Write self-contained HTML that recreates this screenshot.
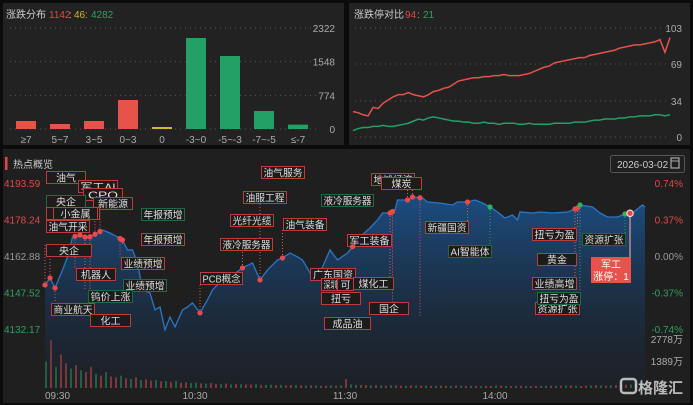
<!DOCTYPE html>
<html><head><meta charset="utf-8">
<style>
html,body{margin:0;padding:0;background:#0b0b0b;width:693px;height:405px;overflow:hidden}
svg{display:block;font-family:"Liberation Sans","Noto Sans CJK SC",sans-serif}
</style></head>
<body>
<svg id="root" width="693" height="405" viewBox="0 0 693 405" xmlns="http://www.w3.org/2000/svg">
<defs>
<linearGradient id="areaGrad" x1="0" y1="0" x2="0" y2="1">
<stop offset="0" stop-color="#1b4f86" stop-opacity="0.95"/>
<stop offset="1" stop-color="#1a2230" stop-opacity="0.4"/>
</linearGradient>
</defs>
<rect x="3" y="3" width="341" height="142" fill="#222"/>
<rect x="349" y="3" width="341" height="142" fill="#222"/>
<rect x="3" y="149" width="687" height="254" fill="#1f1f1f"/>

<g font-size="10">
<text x="6" y="18" fill="#ccc">涨跌分布</text>
<text x="49" y="18" fill="#e04848">1142</text><text x="69" y="18" fill="#aaa">:</text>
<text x="74" y="18" fill="#d4b52a">46</text><text x="85" y="18" fill="#aaa">:</text>
<text x="91" y="18" fill="#2ea061">4282</text>
</g>
<g id="barChart"></g>

<g font-size="10">
<text x="354" y="18" fill="#ccc">涨跌停对比</text>
<text x="405" y="18" fill="#e04848">94</text><text x="417" y="18" fill="#aaa">:</text>
<text x="423" y="18" fill="#2ea061">21</text>
</g>
<g id="lineChart"></g>

<rect x="5" y="157" width="2.5" height="13" fill="#e04848"/>
<text x="13" y="168" font-size="10" fill="#ccc">热点概览</text>
<g>
<rect x="610.5" y="155.5" width="74" height="17" rx="2" fill="#1f1f1f" stroke="#555"/>
<text x="617" y="168" font-size="10" fill="#ccc">2026-03-02</text>
<rect x="671" y="158" width="8" height="10" fill="none" stroke="#aaa" stroke-width="1.2"/>
<line x1="671" y1="161" x2="679" y2="161" stroke="#aaa"/>
</g>
<g id="mainChart"></g>
<g opacity="0.75">
<rect x="621" y="379" width="15" height="14" rx="3" fill="none" stroke="#eee" stroke-width="2.5"/>
<text x="638" y="393" font-size="15" fill="#eee" font-weight="bold">格隆汇</text>
</g>
</svg>
<script>
const NS="http://www.w3.org/2000/svg";
// ---- distribution bar data ----
const distCategories=["≥7","5~7","3~5","0~3","0","-3~0","-5~-3","-7~-5","≤-7"];
const distValues=[184,115,184,667,46,2092,1678,414,100];
const distColors=["r","r","r","r","y","g","g","g","g"];
const distTicks=[0,774,1548,2322];
// ---- limit ratio data ----
const limitUp=[24,23,21,20,28,27,32,35,38,40,40,42,40,39,38,40,43,44,46,47,50,53,54,55,56,56,57,57,58,58,59,58,58,58,59,60,62,64,66,67,70,71,72,73,74,75,75,77,78,79,80,81,82,84,85,86,87,87,88,89,90,92,80,94];
const limitDown=[6,8,9,9,10,10,11,10,10,11,12,13,15,17,16,18,19,18,17,16,15,15,14,14,13,13,14,13,13,12,13,13,13,12,12,13,12,12,12,12,13,13,13,13,14,14,14,15,16,16,17,17,17,18,18,19,19,20,20,20,21,21,20,21];
const limitTicks=[0,34,69,103];
// ---- intraday price data ----
const priceMinutes=[0,2,4,7,9,11,14,17,21,23,26,29,31,33,35,37,39,42,44,46,48,50,52,55,57,59,62,65,67,70,74,79,83,86,89,93,95,98,101,103,106,109,111,114,117,121,122,126,130,133,135,138,140,141,145,147,151,153,158,163,165,169,172,175,178,181,184,187,189,190,195,198,203,209,213,214,219,222,225,229,232,235,239,240];
const prices=[4150.70,4153.64,4149.44,4157.01,4162.47,4170.88,4171.72,4170.46,4172.56,4173.83,4172.56,4170.88,4169.62,4165.42,4165.42,4159.95,4148.60,4147.33,4140.19,4141.45,4131.78,4137.24,4133.04,4140.19,4141.45,4143.13,4138.92,4144.39,4148.60,4151.96,4154.06,4157.85,4159.95,4152.80,4157.01,4161.21,4162.05,4164.15,4162.47,4161.21,4155.74,4154.06,4158.27,4165.42,4161.21,4164.15,4165.42,4170.88,4174.67,4178.03,4180.97,4180.97,4182.24,4186.44,4186.44,4187.70,4187.28,4185.60,4185.18,4184.34,4185.60,4185.60,4186.44,4185.18,4183.50,4181.40,4178.87,4180.13,4178.03,4181.40,4180.97,4181.40,4180.97,4181.40,4183.08,4184.34,4183.50,4180.97,4179.29,4179.29,4180.55,4180.97,4184.34,4183.50];
const priceTicks=["4193.59","4178.24","4162.88","4147.52","4132.17"];
const pctTicks=["0.74%","0.37%","0.00%","-0.37%","-0.74%"];
const timeLabels=["09:30","10:30","11:30","14:00"];
const timeLabelMinutes=[0,60,120,180];
const volumes=[1500,2700,1200,1900,1400,1100,1300,1000,900,1200,800,700,900,650,600,700,550,500,600,450,
500,420,450,380,400,350,420,300,320,280,300,260,250,280,230,220,250,200,230,210,
200,190,210,180,170,190,160,180,150,170,160,150,140,160,150,130,140,150,130,140,
500,200,180,170,160,150,170,150,140,160,150,140,130,150,140,130,140,120,130,140,
130,120,140,130,120,130,120,110,130,120,140,130,120,110,120,130,120,110,120,130,
130,140,120,130,150,140,130,120,140,150,160,150,140,160,170,180,190,200,220,350];
const volColors="grgrrgrgrrgrgrrgrgrgrrgrgrgrrggrgrrgrgrgrrgrggrgrrgrgrgrrgrgrggrrgrgrgrrgrgrgrgrrgrgrgrgrrgrgrgrgrrggrgrgrgrrgrgrgrgrgrg".split("");
// annotations: minute, label, box x/y/width, colour
const annMinutes=[0,2,4,12,14,16,18,20,22,30,31,62,79,86,95,123,138,139,145,147,150,169,178,212,213,214,232];
const annLabels=["油气开采","央企","商业航天","机器人","小金属","钨价上涨","化工","新能源","CPO","业绩预增","年报预增","PCB概念","液冷服务器","油服工程","油气装备","军工装备","煤化工","国企","地摊经济","煤炭","成品油","新疆国资","AI智能体","业绩高增","扭亏为盈","资源扩张","资源扩张"];

const C={r:"#e5534b",g:"#23a065",y:"#d9b52b"};
function mk(tag,attrs,parent,name,inter){const e=document.createElementNS(NS,tag);for(const k in attrs)e.setAttribute(k,attrs[k]);


parent.appendChild(e);return e;}

// ---- bar chart ----
(function(){
const g=document.getElementById("barChart");
const y0=129,y1=28,maxV=2322;const ys=v=>y0-(v/maxV)*(y0-y1);
const xs=i=>26+i*34;
distTicks.forEach(t=>{mk("line",{x1:10,x2:318,y1:ys(t),y2:ys(t),stroke:"#555","stroke-dasharray":"1 4"},g,"dist-gridline");
const tx=mk("text",{x:335,y:ys(t)+4,"font-size":"10",fill:"#aaa","text-anchor":"end"},g,"dist-y-tick");tx.textContent=t;});
distValues.forEach((v,i)=>{mk("rect",{x:xs(i)-10,y:ys(v),width:20,height:Math.max(1.5,y0-ys(v)),fill:C[distColors[i]]},g,"dist-bar-"+i);
const t=mk("text",{x:xs(i),y:143,"font-size":"10",fill:"#aaa","text-anchor":"middle"},g,"dist-x-label");t.textContent=distCategories[i];});
})();
// ---- line chart ----
(function(){
const g=document.getElementById("lineChart");
const y0=137,y1=28,maxV=103;const ys=v=>y0-(v/maxV)*(y0-y1);
limitTicks.forEach(t=>{mk("line",{x1:355,x2:668,y1:ys(t),y2:ys(t),stroke:"#555","stroke-dasharray":"1 4"},g,"limit-gridline");
const tx=mk("text",{x:682,y:ys(t)+4,"font-size":"10",fill:"#aaa","text-anchor":"end"},g,"limit-y-tick");tx.textContent=t;});
function line(arr,col,name){const n=arr.length;const xs=i=>353+i*(670-353)/(n-1);
mk("polyline",{points:arr.map((v,i)=>xs(i)+","+ys(v)).join(" "),fill:"none",stroke:col,"stroke-width":1.5},g,name);}
line(limitUp,"#e5534b","limit-up-line");line(limitDown,"#23a065","limit-down-line");
})();
// ---- main chart ----
(function(){
const g=document.getElementById("mainChart");
const pTop=4193.59,pBot=4132.17,yTop=183,yBot=329;
const ys=p=>yTop+(pTop-p)/(pTop-pBot)*(yBot-yTop);
const xs=m=>45+m*2.5;
const pc=["#e04848","#e04848","#999","#2ea061","#2ea061"];
priceTicks.forEach((t,i)=>{const y=yTop+i*(yBot-yTop)/4;
const a=mk("text",{x:4,y:y+4,"font-size":"10",fill:pc[i]},g,"price-tick");a.textContent=t;
const b=mk("text",{x:683,y:y+4,"font-size":"10",fill:pc[i],"text-anchor":"end"},g,"pct-tick");b.textContent=pctTicks[i];});
const v1=mk("text",{x:683,y:343,"font-size":"10",fill:"#aaa","text-anchor":"end"},g,"volume-max-tick");v1.textContent="2778万";
const v2=mk("text",{x:683,y:365,"font-size":"10",fill:"#aaa","text-anchor":"end"},g,"volume-mid-tick");v2.textContent="1389万";
// volume
const vb=388,vmax=2778,vh=49;
volumes.forEach((v,i)=>{const h=v/vmax*vh;mk("rect",{x:45+i*5,y:vb-h,width:2,height:h,fill:volColors[i%volColors.length]=="r"?"#c8433c":"#2a8a4f"},g,"volume-bar");});
// area
const pts=priceMinutes.map((m,i)=>xs(m)+","+ys(prices[i]));
mk("polygon",{points:xs(0)+","+vb+" "+pts.join(" ")+" "+xs(240)+","+vb,fill:"url(#areaGrad)"},g,"price-area");
mk("polyline",{points:pts.join(" "),fill:"none",stroke:"#2a76c6","stroke-width":1.3},g,"price-line");
timeLabels.forEach((t,i)=>{const x=xs(timeLabelMinutes[i]);const tx=mk("text",{x:i==0?x:x+(i>=2?-0:0),y:399,"font-size":"10",fill:"#aaa","text-anchor":i==0?"start":"middle"},g,"time-label");tx.textContent=t;});
// interpolation
function priceAt(m){for(let i=1;i<priceMinutes.length;i++){if(m<=priceMinutes[i]){const a=priceMinutes[i-1],b=priceMinutes[i];const f=(m-a)/(b-a||1);return prices[i-1]+f*(prices[i]-prices[i-1]);}}return prices[prices.length-1];}
// label boxes (static layout)
const boxes=[
[46,171,39,"油气","r"],[78,180,39,"军工AI","r"],[83,188,39,"CPO","r"],[93,197,39,"新能源","r"],[46,195,39,"央企","g"],
[46,207,53,"","r"],[53,207,44,"小金属","r"],[46,220,43,"油气开采","r"],[141,208,43,"年报预增","g"],[141,233,43,"年报预增","r"],
[46,244,45,"央企","r"],[76,268,39,"机器人","r"],[121,257,43,"业绩预增","r"],[123,279,43,"业绩预增","g"],[88,290,44,"钨价上涨","g"],
[51,303,43,"商业航天","r"],[90,314,40,"化工","r"],[261,166,43,"油气服务","r"],[243,191,43,"油服工程","r"],[230,214,43,"光纤光缆","r"],
[283,218,43,"油气装备","r"],[220,238,52,"液冷服务器","r"],[200,272,42,"PCB概念","r"],[321,194,52,"液冷服务器","g"],[310,268,45,"广东国资","r"],
[321,278,18,"深圳","r"],[337,278,16,"可","r"],[321,292,39,"扭亏","r"],[324,317,46,"成品油","r"],[353,277,40,"煤化工","r"],
[347,234,44,"军工装备","r"],[369,302,39,"国企","r"],[371,173,43,"地摊经济","r"],[381,177,40,"煤炭","r"],[425,221,43,"新疆国资","r"],
[448,245,43,"AI智能体","g"],[532,228,44,"扭亏为盈","r"],[537,253,39,"黄金","r"],[532,277,44,"业绩高增","r"],[535,302,44,"资源扩张","r"],
[537,292,43,"扭亏为盈","g"],[582,233,43,"资源扩张","g"]];
// leaders and dots
const annColors=["r","r","r","r","r","r","r","r","r","r","r","r","r","r","r","r","r","r","r","r","r","r","g","r","r","g","g"];
const annTargets=[232,244,303,268,207,290,314,197,188,257,233,272,238,191,218,234,277,302,173,177,317,221,245,277,228,292,233];
annMinutes.forEach((m,i)=>{const x=xs(m),y=ys(priceAt(m));const ty=annTargets[i];
mk("line",{x1:x,x2:x,y1:y,y2:ty<y?ty+12:ty,stroke:C[annColors[i]],"stroke-dasharray":"1 2","stroke-width":1},g,"leader-"+annLabels[i]);});
boxes.forEach(b=>{const grp=mk("g",{},g,"tag-"+(b[3]||"box"),true);
mk("rect",{x:b[0]+0.5,y:b[1]+0.5,width:b[2],height:12,fill:"#1c1c1c",stroke:b[4]=="r"?"#c03a3a":"#1f6a40","stroke-width":1},grp,"tag-box");
if(b[3]){const t=mk("text",{x:b[0]+b[2]/2+0.5,y:b[1]+10.5,"font-size":"10",fill:"#ddd","text-anchor":"middle",textLength:Math.min(b[2]-4,b[3].length*10),lengthAdjust:"spacingAndGlyphs"},grp,"tag-text");t.textContent=b[3];}});
annMinutes.forEach((m,i)=>{mk("circle",{cx:xs(m),cy:ys(priceAt(m)),r:2.6,fill:annColors[i]=="r"?"#f04848":"#2bb45a"},g,"dot-"+annLabels[i]);});
// highlight point + tooltip
const hm=234,hx=xs(hm),hy=ys(priceAt(hm));
mk("line",{x1:hx,x2:hx,y1:hy,y2:257,stroke:"#e5a0a0","stroke-width":1.2},g,"highlight-line");
mk("circle",{cx:hx,cy:hy,r:3.2,fill:"#e04848",stroke:"#ffd0d0","stroke-width":1.2},g,"highlight-point",true);
const tip=mk("g",{},g,"highlight-tooltip");
mk("rect",{x:591,y:257,width:40,height:26,fill:"#e5534b"},tip,"tooltip-box");
const t1=mk("text",{x:611,y:268,"font-size":"10",fill:"#fff","text-anchor":"middle"},tip,"tooltip-sector");t1.textContent="军工";
const t2=mk("text",{x:611,y:280,"font-size":"10",fill:"#fff","text-anchor":"middle"},tip,"tooltip-count");t2.textContent="涨停：1";
})();
</script>
</body></html>
